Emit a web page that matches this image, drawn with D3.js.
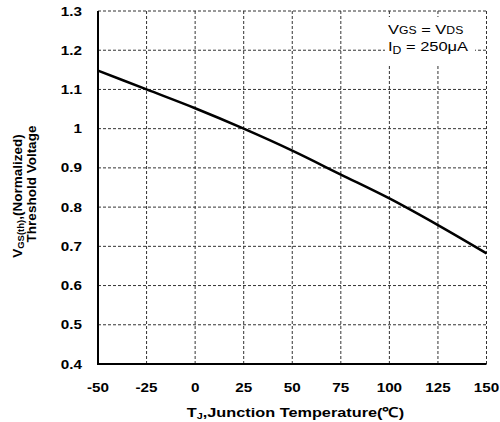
<!DOCTYPE html>
<html><head><meta charset="utf-8">
<script src="https://cdn.jsdelivr.net/npm/d3@7/dist/d3.min.js"></script>
<style>body{margin:0;background:#fff}</style>
</head><body>
<svg id="c" width="500" height="422"></svg>
<script>
const temps = [-50, -25, 0, 25, 50, 75, 100, 125, 150];
const vth = [1.148, 1.10, 1.052, 1.0, 0.944, 0.883, 0.822, 0.754, 0.682];
const xTicks = [-50, -25, 0, 25, 50, 75, 100, 125, 150];
const yTicks = [0.4, 0.5, 0.6, 0.7, 0.8, 0.9, 1, 1.1, 1.2, 1.3];

const svg = d3.select('#c');
const L = 98, R = 486.5, T = 11, B = 364;
const x = d3.scaleLinear().domain([-50, 150]).range([L, R]);
const y = d3.scaleLinear().domain([0.4, 1.3]).range([B, T]);
const font = 'Liberation Sans, Arial, sans-serif';
const SX = 1.22;

// grid
const g = svg.append('g');
g.selectAll('.vg').data(xTicks.slice(1)).enter().append('line')
  .attr('x1', d => x(d)).attr('x2', d => x(d)).attr('y1', T).attr('y2', B)
  .attr('stroke', '#333').attr('stroke-width', 1).attr('stroke-dasharray', '3,2');
g.selectAll('.hg').data(yTicks.slice(1)).enter().append('line')
  .attr('x1', L).attr('x2', R).attr('y1', d => y(d)).attr('y2', d => y(d))
  .attr('stroke', '#333').attr('stroke-width', 1).attr('stroke-dasharray', '3,2');

// legend box
svg.append('rect').attr('x', 385).attr('y', 17).attr('width', 90).attr('height', 47).attr('fill', '#fff');
const t1 = svg.append('text').attr('transform', `translate(388,34) scale(${SX},1)`).attr('font-family', font).attr('font-size', 13.5).attr('fill', '#000');
t1.append('tspan').text('V');
t1.append('tspan').attr('font-size', 10).text('GS');
t1.append('tspan').text(' = V');
t1.append('tspan').attr('font-size', 10).text('DS');
const t2 = svg.append('text').attr('transform', `translate(388,51) scale(${SX},1)`).attr('font-family', font).attr('font-size', 13.5).attr('fill', '#000');
t2.append('tspan').text('I');
t2.append('tspan').attr('font-size', 10).attr('dy', 3).text('D');
t2.append('tspan').attr('dy', -3).text(' = 250μA');

// axes
svg.append('line').attr('x1', L).attr('x2', L).attr('y1', T).attr('y2', B + 1).attr('stroke', '#000').attr('stroke-width', 2);
svg.append('line').attr('x1', L - 1).attr('x2', R).attr('y1', B).attr('y2', B).attr('stroke', '#000').attr('stroke-width', 2);

// curve
const line = d3.line().x((d, i) => x(temps[i])).y(d => y(d)).curve(d3.curveMonotoneX);
svg.append('path').datum(vth).attr('d', line).attr('fill', 'none').attr('stroke', '#000').attr('stroke-width', 2.5);

// tick labels
svg.selectAll('.xl').data(xTicks).enter().append('text')
  .attr('transform', d => `translate(${x(d)},392) scale(${SX},1)`).attr('text-anchor', 'middle')
  .attr('font-family', font).attr('font-weight', 'bold').attr('font-size', 12.5).text(d => d);
svg.selectAll('.yl').data(yTicks).enter().append('text')
  .attr('transform', d => `translate(82,${y(d) + 4.5}) scale(${SX},1)`).attr('text-anchor', 'end')
  .attr('font-family', font).attr('font-weight', 'bold').attr('font-size', 12.5).text(d => d);

// x title
const xt = svg.append('text').attr('text-anchor', 'middle')
  .attr('font-family', font).attr('font-weight', 'bold').attr('font-size', 13.5);
xt.append('tspan').text('T');
xt.append('tspan').attr('font-size', 9).attr('dy', 2).text('J');
xt.append('tspan').attr('dy', -2).text(',Junction Temperature(℃)');
const w = xt.node().getComputedTextLength();
xt.attr('transform', `translate(295.5,417) scale(${217 / w},1)`);

// y title
const yt1 = svg.append('text').attr('transform', 'translate(22,196) rotate(-90)').attr('text-anchor', 'middle')
  .attr('font-family', font).attr('font-weight', 'bold').attr('font-size', 13.5);
yt1.append('tspan').text('V');
yt1.append('tspan').attr('font-size', 9.5).attr('dy', 2).text('GS(th)');
yt1.append('tspan').attr('dy', -2).text(',(Normalized)');
svg.append('text').attr('transform', 'translate(36,184) rotate(-90)').attr('text-anchor', 'middle')
  .attr('font-family', font).attr('font-weight', 'bold').attr('font-size', 13.5).text('Threshold Voltage');
</script>
</body></html>
